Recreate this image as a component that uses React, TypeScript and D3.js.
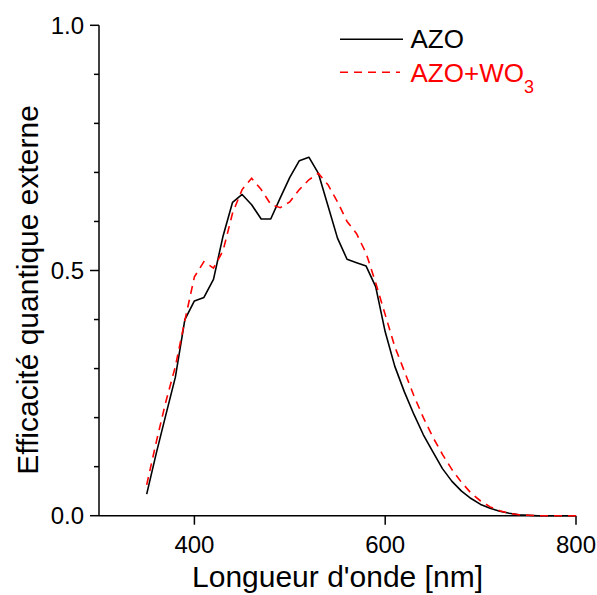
import React from "react";
import * as d3 from "d3";

const wavelengths = [350,360,370,380,390,400,410,420,430,440,450,460,470,480,490,500,510,520,530,540,550,560,570,580,590,600,610,620,630,640,650,660,670,680,690,700,710,720,730,740,750,760,770,780,790,800];
const azo = [0.044,0.127,0.205,0.282,0.400,0.438,0.445,0.482,0.570,0.639,0.655,0.634,0.605,0.605,0.648,0.690,0.724,0.731,0.698,0.632,0.566,0.523,0.516,0.509,0.467,0.375,0.305,0.253,0.207,0.165,0.130,0.096,0.070,0.050,0.035,0.023,0.015,0.009,0.005,0.002,0.001,0,0,0,0,0];
const azoWo3 = [0.063,0.150,0.232,0.304,0.398,0.487,0.518,0.505,0.540,0.617,0.665,0.688,0.665,0.635,0.628,0.640,0.665,0.685,0.698,0.675,0.640,0.600,0.575,0.535,0.475,0.410,0.345,0.295,0.245,0.200,0.160,0.125,0.094,0.068,0.046,0.030,0.018,0.010,0.005,0.002,0.001,0,0,0,0,0];
const xTicks = [400,600,800];
const yMajor = [0.0,0.5,1.0];
const yMinor = [0.1,0.2,0.3,0.4,0.6,0.7,0.8,0.9];

const W = 597, H = 595;
const x = d3.scaleLinear().domain([300, 800]).range([99, 576]);
const y = d3.scaleLinear().domain([0, 1]).range([515.7, 25.3]);
const FONT = "'Liberation Sans', Arial, sans-serif";

export default function App() {
  const line = d3.line<number>().x((_, i) => x(wavelengths[i])).y(d => y(d));
  return (
    <svg width={W} height={H} style={{ position: "absolute", left: 0, top: 0, background: "#fff" }} fontFamily={FONT}>
      <rect width={W} height={H} fill="#fff" />
      <line x1={x(300)} x2={x(800)} y1={y(0)} y2={y(0)} stroke="#000" strokeWidth={1.5} />
      <line x1={x(300)} x2={x(300)} y1={y(0)} y2={y(1)} stroke="#000" strokeWidth={1.5} />
      {xTicks.map(t => (
        <g key={"xt" + t}>
          <line x1={x(t)} x2={x(t)} y1={y(0)} y2={y(0) + 9} stroke="#000" strokeWidth={1.5} />
          <text x={x(t)} y={553} textAnchor="middle" fontSize={24}>{t}</text>
        </g>
      ))}
      {yMajor.map(t => (
        <g key={"ym" + t}>
          <line x1={x(300) - 9} x2={x(300)} y1={y(t)} y2={y(t)} stroke="#000" strokeWidth={1.5} />
          <text x={84} y={y(t) + 8.5} textAnchor="end" fontSize={24}>{t.toFixed(1)}</text>
        </g>
      ))}
      {yMinor.map(t => (
        <line key={"yn" + t} x1={x(300) - 5} x2={x(300)} y1={y(t)} y2={y(t)} stroke="#000" strokeWidth={1.5} />
      ))}
      <text x={337.5} y={587} textAnchor="middle" fontSize={30}>Longueur d'onde [nm]</text>
      <text transform={`translate(38,290) rotate(-90)`} textAnchor="middle" fontSize={30}>Efficacité quantique externe</text>
      <path d={line(azo) || ""} fill="none" stroke="#000" strokeWidth={1.6} strokeLinejoin="round" />
      <path d={line(azoWo3) || ""} fill="none" stroke="#ff0000" strokeWidth={1.6} strokeDasharray="8,6" />
      <line x1={340} x2={403} y1={39.3} y2={39.3} stroke="#000" strokeWidth={1.6} />
      <text x={410.5} y={48} fontSize={26} fill="#000">AZO</text>
      <line x1={340} x2={400} y1={72.3} y2={72.3} stroke="#ff0000" strokeWidth={1.6} strokeDasharray="8,6" />
      <text x={410.5} y={81.5} fontSize={26} fill="#ff0000">AZO+WO<tspan fontSize={18} dy={11}>3</tspan></text>
    </svg>
  );
}
